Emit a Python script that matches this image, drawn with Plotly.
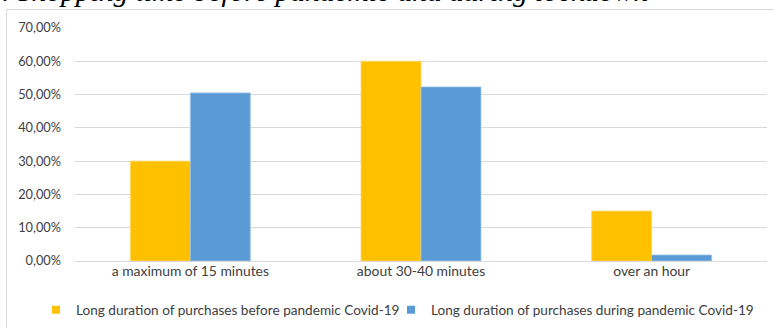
import plotly.graph_objects as go

# Shopping time categories and shares of respondents
categories = ["a maximum of 15 minutes", "about 30-40 minutes", "over an hour"]
before_pandemic = [0.30, 0.60, 0.15]
during_pandemic = [0.505, 0.523, 0.018]
series_names = [
    "Long duration of purchases before pandemic Covid-19",
    "Long duration of purchases during pandemic Covid-19",
]
series_colors = ["#FFC000", "#5B9BD5"]
edge_colors = ["#FFD966", "#9DC3E6"]
y_ticks = [0, 0.1, 0.2, 0.3, 0.4, 0.5, 0.6, 0.7]

W, H = 774, 328
M_L, M_R, M_T, M_B = 75, 7, 28, 67
plot_w = W - M_L - M_R
plot_h = H - M_T - M_B

FONT = "Lato, 'Liberation Sans', Arial, sans-serif"
TEXT = "#404040"
GRID = "#D9D9D9"


def px_x(p):
    return (p - M_L) / plot_w


def px_y(p):
    return 1 - (p - M_T) / plot_h


fig = go.Figure()
for name, vals, col, edge in zip(series_names, [before_pandemic, during_pandemic],
                                 series_colors, edge_colors):
    fig.add_bar(
        x=categories, y=vals, name=name, showlegend=False,
        marker=dict(color=col, line=dict(color=edge, width=0.8)),
    )

# small square legend keys, one legend box per series so they sit on one row
for i, (name, col) in enumerate(zip(series_names, series_colors)):
    fig.add_scatter(
        x=[None], y=[None], mode="markers", name=name,
        legend="legend" if i == 0 else "legend2",
        marker=dict(symbol="square", size=8, color=col),
    )

legend_style = dict(
    orientation="h", xanchor="left", yanchor="middle", y=px_y(310),
    font=dict(family=FONT, size=13.6, color=TEXT),
    itemwidth=30, borderwidth=0, bgcolor="rgba(0,0,0,0)",
)

fig.update_layout(
    width=W, height=H,
    margin=dict(l=M_L, r=M_R, t=M_T, b=M_B, pad=0, autoexpand=False),
    paper_bgcolor="white", plot_bgcolor="white",
    separators=", ",
    barmode="group", bargap=0.48, bargroupgap=0,
    font=dict(family=FONT, size=14, color=TEXT),
    showlegend=True,
    legend=dict(x=px_x(36), **legend_style),
    legend2=dict(x=px_x(391), **legend_style),
    xaxis=dict(
        showgrid=False, showline=False, zeroline=False,
        ticks="", tickfont=dict(family=FONT, size=13.9, color=TEXT),
        fixedrange=True,
    ),
    yaxis=dict(
        range=[0, 0.7], tickvals=y_ticks, tickformat=".2%",
        showgrid=True, gridcolor=GRID, gridwidth=1,
        zeroline=True, zerolinecolor=GRID, zerolinewidth=1,
        showline=False, ticks="", ticklabelstandoff=13,
        tickfont=dict(family=FONT, size=12.8, color=TEXT),
        fixedrange=True,
    ),
    shapes=[
        dict(
            type="rect", xref="paper", yref="paper",
            x0=px_x(6.5), x1=px_x(790), y0=px_y(9.5), y1=px_y(350),
            line=dict(color=GRID, width=1), fillcolor="rgba(0,0,0,0)",
            layer="below",
        )
    ],
    annotations=[
        dict(
            text="<i>. Shopping time before pandemic and during lockdown</i>",
            xref="paper", yref="paper", x=px_x(0), y=1,
            xanchor="left", yanchor="bottom", yshift=18.5,
            showarrow=False,
            font=dict(family="'Liberation Serif', 'Times New Roman', serif",
                      size=29.5, color="black"),
        )
    ],
)

fig.write_html("out.html")
